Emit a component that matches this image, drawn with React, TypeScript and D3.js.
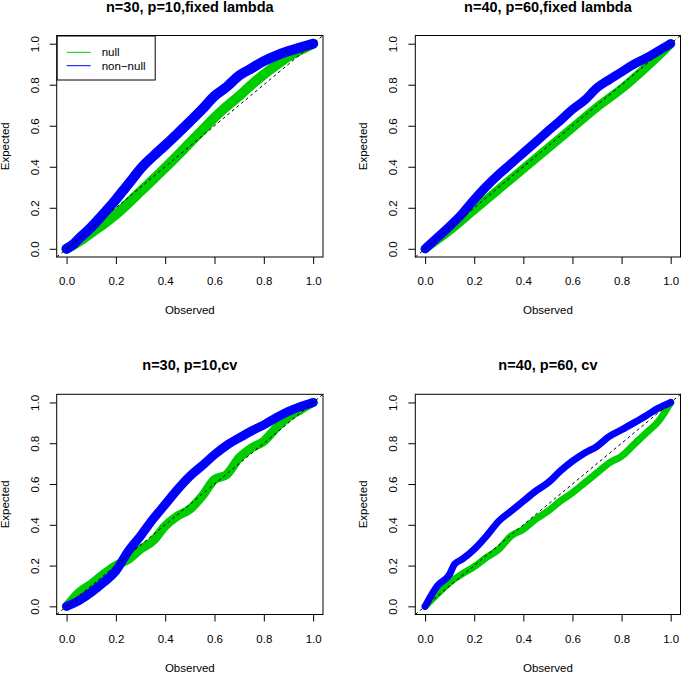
import * as d3 from 'd3';
import { useEffect, useRef } from 'react';

const WIDTH = 683;
const HEIGHT = 673;
const FONT = '"Liberation Sans", Arial, sans-serif';

const GREEN = '#00cd00';
const BLUE = '#0000ff';

const titles = [
  'n=30, p=10,fixed lambda',
  'n=40, p=60,fixed lambda',
  'n=30, p=10,cv',
  'n=40, p=60, cv',
];

const ticks = [0, 0.2, 0.4, 0.6, 0.8, 1.0];

// [observed, expected] pairs
const nullP1 = [
  [0, 0], [0.05, 0.035], [0.1, 0.078], [0.15, 0.12], [0.2, 0.167], [0.25, 0.222], [0.3, 0.28],
  [0.35, 0.337], [0.4, 0.395], [0.45, 0.455], [0.5, 0.517], [0.55, 0.578], [0.6, 0.64],
  [0.65, 0.695], [0.7, 0.745], [0.75, 0.8], [0.8, 0.85], [0.85, 0.895], [0.9, 0.937],
  [0.95, 0.97], [1, 1],
];
const nonNullP1 = [
  [0, 0], [0.03, 0.025], [0.05, 0.049], [0.1, 0.105], [0.134, 0.15], [0.2, 0.24], [0.24, 0.3],
  [0.27, 0.345], [0.3, 0.39], [0.35, 0.45], [0.4, 0.505], [0.45, 0.562], [0.5, 0.62],
  [0.55, 0.68], [0.6, 0.745], [0.65, 0.79], [0.7, 0.845], [0.75, 0.88], [0.8, 0.915],
  [0.85, 0.942], [0.9, 0.964], [0.95, 0.982], [1, 1],
];
const nullP2 = [
  [0, 0], [0.05, 0.045], [0.1, 0.09], [0.2, 0.19], [0.3, 0.29], [0.4, 0.39], [0.5, 0.49],
  [0.6, 0.59], [0.7, 0.69], [0.8, 0.78], [0.9, 0.885], [0.95, 0.94], [1, 1],
];
const nonNullP2 = [
  [0, 0], [0.05, 0.055], [0.1, 0.11], [0.15, 0.17], [0.2, 0.24], [0.25, 0.305], [0.3, 0.363],
  [0.35, 0.415], [0.4, 0.468], [0.45, 0.52], [0.5, 0.574], [0.55, 0.625], [0.6, 0.68],
  [0.65, 0.725], [0.7, 0.785], [0.75, 0.825], [0.8, 0.862], [0.85, 0.9], [0.9, 0.93],
  [0.95, 0.965], [1, 1],
];
const nullP3 = [
  [0, 0], [0.05, 0.068], [0.1, 0.109], [0.15, 0.158], [0.2, 0.2], [0.25, 0.23], [0.3, 0.28],
  [0.35, 0.32], [0.4, 0.394], [0.45, 0.443], [0.5, 0.476], [0.55, 0.54], [0.6, 0.622],
  [0.65, 0.647], [0.7, 0.728], [0.75, 0.777], [0.8, 0.81], [0.85, 0.875], [0.9, 0.928],
  [0.95, 0.965], [1, 1],
];
const nonNullP3 = [
  [0, 0], [0.05, 0.028], [0.1, 0.068], [0.15, 0.117], [0.2, 0.174], [0.25, 0.27], [0.3, 0.345],
  [0.35, 0.427], [0.4, 0.5], [0.45, 0.573], [0.5, 0.638], [0.55, 0.69], [0.6, 0.744],
  [0.65, 0.79], [0.7, 0.826], [0.75, 0.86], [0.8, 0.89], [0.85, 0.925], [0.9, 0.956],
  [0.95, 0.98], [1, 1],
];
const nullP4 = [
  [0, 0], [0.05, 0.06], [0.1, 0.117], [0.15, 0.158], [0.2, 0.195], [0.25, 0.24], [0.3, 0.28],
  [0.35, 0.345], [0.4, 0.378], [0.45, 0.427], [0.5, 0.467], [0.55, 0.516], [0.6, 0.557],
  [0.65, 0.606], [0.7, 0.655], [0.75, 0.704], [0.8, 0.736], [0.85, 0.793], [0.9, 0.85],
  [0.95, 0.907], [1, 1],
];
const nonNullP4 = [
  [0, 0], [0.05, 0.1], [0.1, 0.158], [0.12, 0.207], [0.15, 0.23], [0.2, 0.28], [0.25, 0.345],
  [0.3, 0.418], [0.35, 0.467], [0.4, 0.516], [0.45, 0.565], [0.5, 0.606], [0.55, 0.663],
  [0.6, 0.712], [0.65, 0.752], [0.7, 0.785], [0.75, 0.834], [0.8, 0.866], [0.85, 0.9],
  [0.9, 0.935], [0.95, 0.972], [1, 1],
];

const nullSeries = [nullP1, nullP2, nullP3, nullP4];
const nonNullSeries = [nonNullP1, nonNullP2, nonNullP3, nonNullP4];
const bandWidth = [10, 9, 9, 7];

// plot boxes, pixels
const colX = [[56.7, 323], [415.3, 680.5]];
const rowY = [[35.5, 257], [394.3, 614.5]];

export default function App() {
  const svgRef = useRef<SVGSVGElement>(null);

  useEffect(() => {
    const svg = d3.select(svgRef.current);
    svg.selectAll('*').remove();

    titles.forEach((title, i) => {
      const [left, right] = colX[i % 2];
      const [top, bottom] = rowY[Math.floor(i / 2)];
      const x = d3.scaleLinear().domain([-0.04, 1.04]).range([left, right]);
      const y = d3.scaleLinear().domain([-0.04, 1.04]).range([bottom, top]);
      const g = svg.append('g');

      const line = d3
        .line<number[]>()
        .x((d) => x(d[0]))
        .y((d) => y(d[1]))
        .curve(d3.curveMonotoneX);

      [
        { data: nullSeries[i], color: GREEN },
        { data: nonNullSeries[i], color: BLUE },
      ].forEach((s) => {
        g.append('path')
          .attr('d', line(s.data as number[][]))
          .attr('fill', 'none')
          .attr('stroke', s.color)
          .attr('stroke-width', bandWidth[i])
          .attr('stroke-linecap', 'round')
          .attr('stroke-linejoin', 'round');
      });

      // dashed identity line
      g.append('line')
        .attr('x1', x(-0.04))
        .attr('y1', y(-0.04))
        .attr('x2', x(1.04))
        .attr('y2', y(1.04))
        .attr('stroke', '#000')
        .attr('stroke-width', 1)
        .attr('stroke-dasharray', '3,3');

      g.append('rect')
        .attr('x', left)
        .attr('y', top)
        .attr('width', right - left)
        .attr('height', bottom - top)
        .attr('fill', 'none')
        .attr('stroke', '#000')
        .attr('stroke-width', 1);

      const xAxis = g
        .append('g')
        .attr('transform', `translate(0,${bottom})`)
        .call(
          d3.axisBottom(x).tickValues(ticks).tickFormat(d3.format('.1f')).tickSize(7).tickSizeOuter(0)
        );
      xAxis.select('.domain').remove();
      xAxis.selectAll('line').attr('stroke', '#000');
      xAxis
        .selectAll('text')
        .attr('y', 28)
        .attr('dy', 0)
        .attr('fill', '#000')
        .style('font', `11.5px ${FONT}`);

      const yAxis = g
        .append('g')
        .attr('transform', `translate(${left},0)`)
        .call(
          d3.axisLeft(y).tickValues(ticks).tickFormat(d3.format('.1f')).tickSize(7).tickSizeOuter(0)
        );
      yAxis.select('.domain').remove();
      yAxis.selectAll('line').attr('stroke', '#000');
      yAxis
        .selectAll('text')
        .attr('x', 0)
        .attr('dy', 0)
        .attr('transform', 'translate(-18,0) rotate(-90)')
        .attr('text-anchor', 'middle')
        .attr('fill', '#000')
        .style('font', `11.5px ${FONT}`);

      g.append('text')
        .attr('x', (left + right) / 2)
        .attr('y', top - 24)
        .attr('text-anchor', 'middle')
        .style('font', `bold 14.5px ${FONT}`)
        .text(title);

      g.append('text')
        .attr('x', (left + right) / 2)
        .attr('y', bottom + 57)
        .attr('text-anchor', 'middle')
        .style('font', `11.5px ${FONT}`)
        .text('Observed');

      g.append('text')
        .attr('transform', `translate(${left - 48},${(top + bottom) / 2}) rotate(-90)`)
        .attr('text-anchor', 'middle')
        .style('font', `11.5px ${FONT}`)
        .text('Expected');

      if (i === 0) {
        const legend = g.append('g').attr('transform', `translate(${left},${top})`);
        legend
          .append('rect')
          .attr('x', 0.5)
          .attr('y', 0.5)
          .attr('width', 98)
          .attr('height', 44)
          .attr('fill', '#fff')
          .attr('stroke', '#000');
        [
          { label: 'null', color: GREEN },
          { label: 'non-null', color: BLUE },
        ].forEach((item, k) => {
          const ly = 16.8 + k * 13.4;
          legend
            .append('line')
            .attr('x1', 10)
            .attr('x2', 34)
            .attr('y1', ly)
            .attr('y2', ly)
            .attr('stroke', item.color)
            .attr('stroke-width', 1);
          legend
            .append('text')
            .attr('x', 45)
            .attr('y', ly + 4)
            .style('font', `11.5px ${FONT}`)
            .text(item.label.replace('-', '\u2212'));
        });
      }
    });
  }, []);

  return (
    <svg
      ref={svgRef}
      width={WIDTH}
      height={HEIGHT}
      style={{ position: 'absolute', left: 0, top: 0, background: '#fff' }}
    />
  );
}
